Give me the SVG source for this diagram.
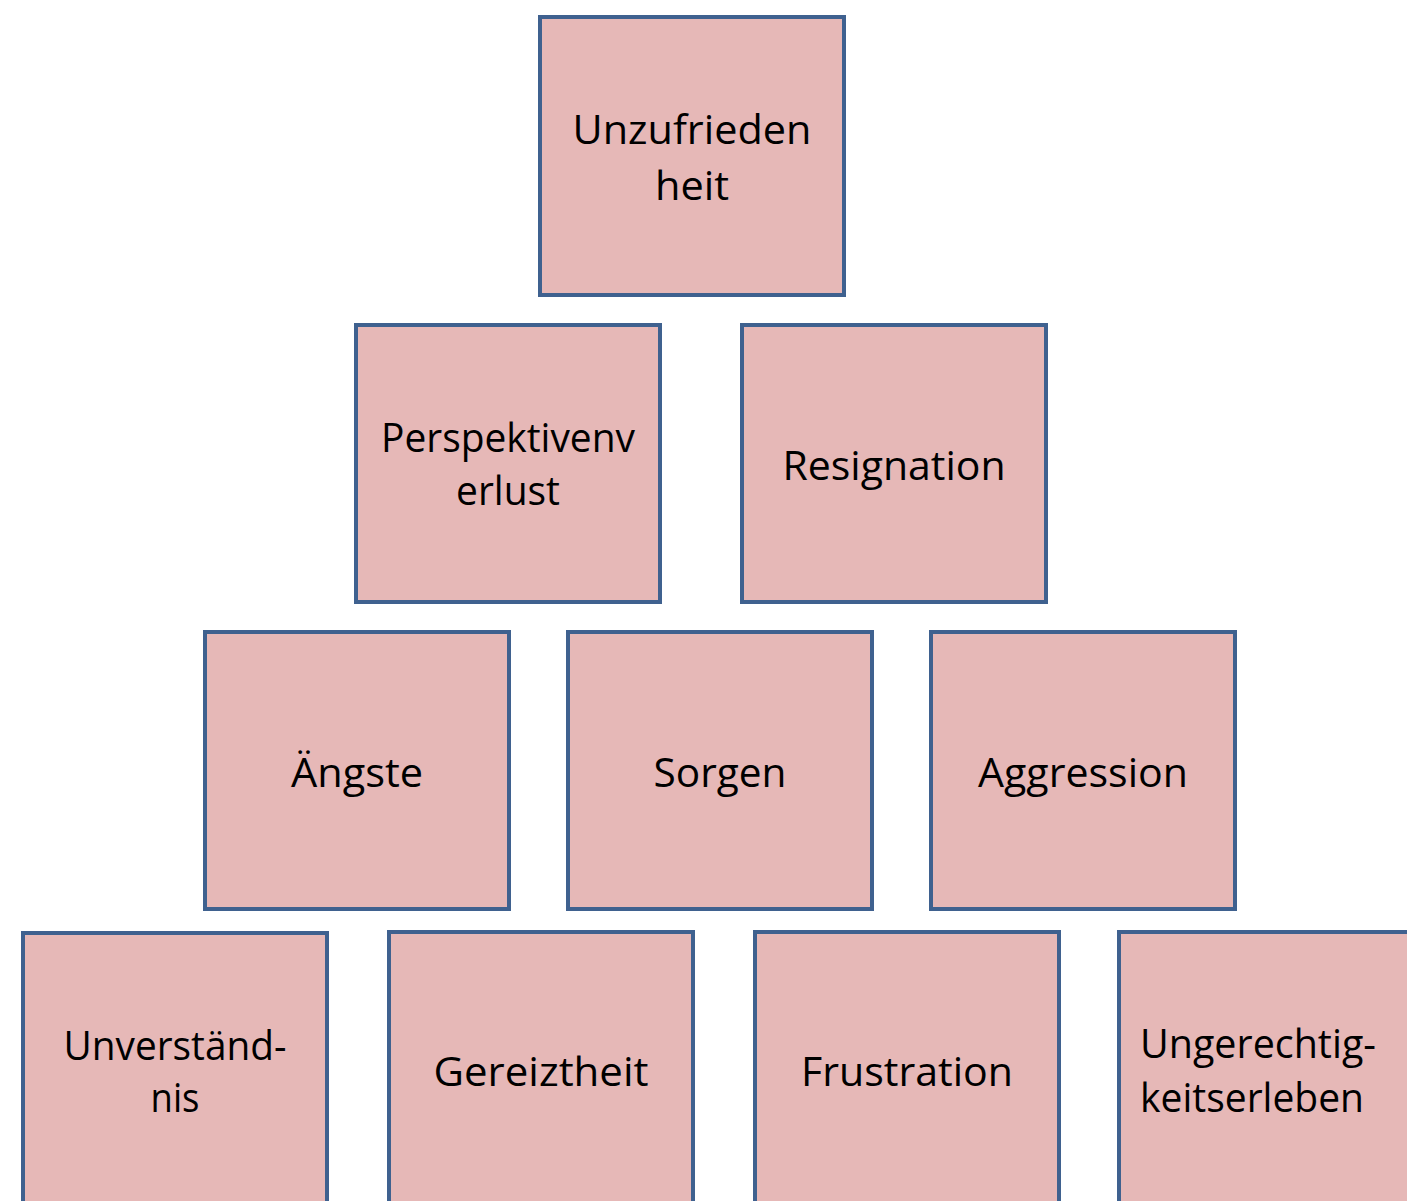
<svg xmlns="http://www.w3.org/2000/svg" width="1407" height="1201" viewBox="0 0 1407 1201">
  <style>
    .box { fill: #e6b8b7; stroke: #3f618f; stroke-width: 4; }
    .lbl { font-family: "Open Sans", "Noto Sans", "Liberation Sans", sans-serif; font-size: 40px; fill: #000; }
    .c { text-anchor: middle; }
  </style>
  <rect width="1407" height="1201" fill="#ffffff"/>

  <g id="connectors"></g>

  <!-- top row -->
  <g id="node-unzufriedenheit">
    <rect class="box" x="540" y="17" width="304" height="278"/>
    <text class="lbl c" x="692" y="144" textLength="239" lengthAdjust="spacingAndGlyphs">Unzufrieden</text>
    <text class="lbl c" x="692" y="200" textLength="74" lengthAdjust="spacingAndGlyphs">heit</text>
  </g>

  <!-- second row -->
  <g id="node-perspektivenverlust">
    <rect class="box" x="356" y="325" width="304" height="277"/>
    <text class="lbl c" x="508" y="452" textLength="254" lengthAdjust="spacingAndGlyphs">Perspektivenv</text>
    <text class="lbl c" x="508" y="505" textLength="104" lengthAdjust="spacingAndGlyphs">erlust</text>
  </g>
  <g id="node-resignation">
    <rect class="box" x="742" y="325" width="304" height="277"/>
    <text class="lbl c" x="894" y="480" textLength="223" lengthAdjust="spacingAndGlyphs">Resignation</text>
  </g>

  <!-- third row -->
  <g id="node-aengste">
    <rect class="box" x="205" y="632" width="304" height="277"/>
    <text class="lbl c" x="357" y="787" textLength="132" lengthAdjust="spacingAndGlyphs">Ängste</text>
  </g>
  <g id="node-sorgen">
    <rect class="box" x="568" y="632" width="304" height="277"/>
    <text class="lbl c" x="720" y="787" textLength="133" lengthAdjust="spacingAndGlyphs">Sorgen</text>
  </g>
  <g id="node-aggression">
    <rect class="box" x="931" y="632" width="304" height="277"/>
    <text class="lbl c" x="1083" y="787" textLength="210" lengthAdjust="spacingAndGlyphs">Aggression</text>
  </g>

  <!-- bottom row (runs past the lower edge) -->
  <g id="node-unverstaendnis">
    <rect class="box" x="23" y="933" width="304" height="300"/>
    <text class="lbl c" x="175" y="1060" textLength="223" lengthAdjust="spacingAndGlyphs">Unverständ-</text>
    <text class="lbl c" x="175" y="1112" textLength="49" lengthAdjust="spacingAndGlyphs">nis</text>
  </g>
  <g id="node-gereiztheit">
    <rect class="box" x="389" y="932" width="304" height="300"/>
    <text class="lbl c" x="541" y="1086" textLength="215" lengthAdjust="spacingAndGlyphs">Gereiztheit</text>
  </g>
  <g id="node-frustration">
    <rect class="box" x="755" y="932" width="304" height="300"/>
    <text class="lbl c" x="907" y="1086" textLength="212" lengthAdjust="spacingAndGlyphs">Frustration</text>
  </g>
  <g id="node-ungerechtigkeitserleben">
    <rect class="box" x="1119" y="932" width="304" height="300"/>
    <text class="lbl" x="1140" y="1058" textLength="236" lengthAdjust="spacingAndGlyphs">Ungerechtig-</text>
    <text class="lbl" x="1140" y="1112" textLength="224" lengthAdjust="spacingAndGlyphs">keitserleben</text>
  </g>
</svg>
